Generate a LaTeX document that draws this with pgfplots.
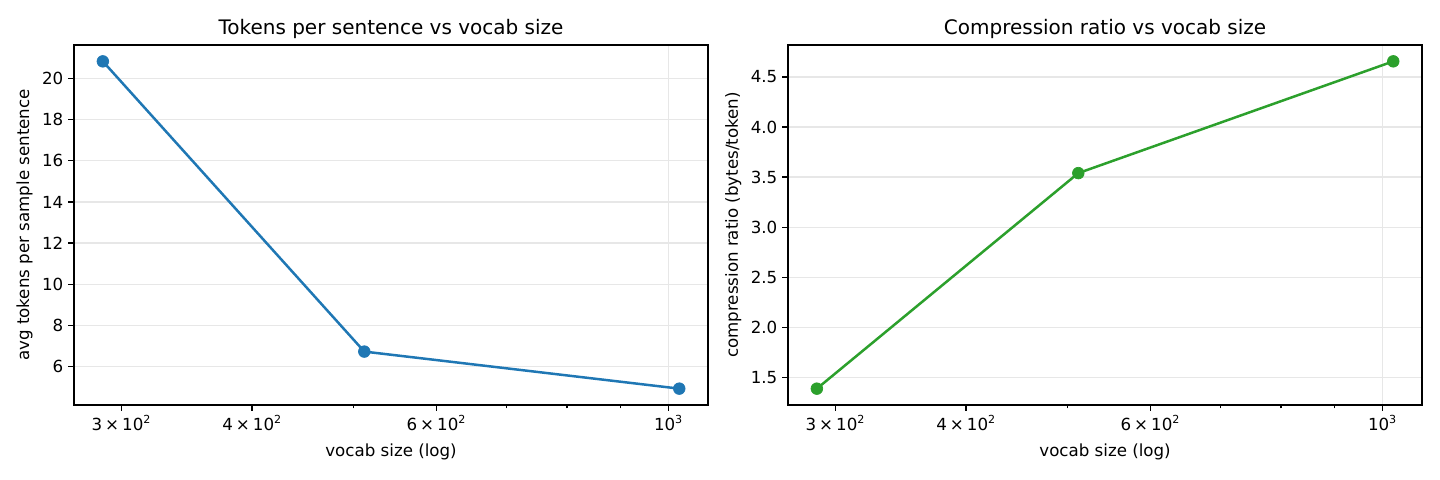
\documentclass[border=0pt]{standalone}
\usepackage{fontspec}
\setmainfont{DejaVu Sans}
\usepackage{pgfplots}
\pgfplotsset{compat=1.18}

\definecolor{tabblue}{HTML}{1F77B4}
\definecolor{tabgreen}{HTML}{2CA02C}
\definecolor{gridgray}{HTML}{E7E7E7}

% 3 x 10^2 style tick label
\newcommand{\sci}[1]{#1\kern2.2pt×\kern2.2pt10\textsuperscript{2}}

\pgfplotsset{
  every axis/.append style={
    scale only axis,
    width=456.5pt, height=259.2pt,
    axis line style={line width=0.96pt},
    tick style={line width=0.96pt, black},
    tick align=outside,
    tick pos=left,
    major tick length=4.2pt,
    minor tick length=2.4pt,
    xmajorgrids=true, ymajorgrids=true,
    major grid style={gridgray, line width=0.96pt},
    /pgf/number format/assume math mode=true,
    ticklabel style={font=\fontsize{12}{14}\selectfont},
    label style={font=\fontsize{12}{14}\selectfont},
    xlabel style={yshift=5.5pt},
    title style={font=\fontsize{14.4}{17}\selectfont, yshift=-5pt},
  }
}

\begin{document}
\begin{tikzpicture}
\path[use as bounding box] (0,0) rectangle (1036.8pt,345.6pt);

% tokens per sentence
\begin{axis}[
  at={(53.28pt,54pt)}, anchor=south west,
  xmode=log, xmin=270.3, xmax=1091,
  xtick={1000}, xticklabels={10\textsuperscript{3}},
  extra x ticks={300,400,600},
  extra x tick labels={\sci{3},\sci{4},\sci{6}},
  extra x tick style={grid=none},
  minor xtick={500,700,800,900},
  ymin=4.135, ymax=21.625,
  ytick={6,8,...,20},
  title={Tokens per sentence vs vocab size},
  xlabel={vocab size (log)},
  ylabel={avg tokens per sample sentence},
]
\addplot[color=tabblue, line width=1.8pt, mark=*, mark size=4.2pt,
  mark options={solid, fill=tabblue, draw=tabblue, line width=0.5pt}]
  coordinates {(288,20.83) (512,6.73) (1024,4.93)};
\end{axis}

% compression ratio
\begin{axis}[
  at={(567.36pt,54pt)}, anchor=south west,
  xmode=log, xmin=270.3, xmax=1091,
  xtick={1000}, xticklabels={10\textsuperscript{3}},
  extra x ticks={300,400,600},
  extra x tick labels={\sci{3},\sci{4},\sci{6}},
  extra x tick style={grid=none},
  minor xtick={500,700,800,900},
  ymin=1.227, ymax=4.818,
  ytick={1.5,2.0,...,4.5},
  yticklabel style={/pgf/number format/fixed, /pgf/number format/fixed zerofill, /pgf/number format/precision=1},
  title={Compression ratio vs vocab size},
  xlabel={vocab size (log)},
  ylabel={compression ratio (bytes/token)},
]
\addplot[color=tabgreen, line width=1.8pt, mark=*, mark size=4.2pt,
  mark options={solid, fill=tabgreen, draw=tabgreen, line width=0.5pt}]
  coordinates {(288,1.39) (512,3.54) (1024,4.655)};
\end{axis}
\end{tikzpicture}
\end{document}
